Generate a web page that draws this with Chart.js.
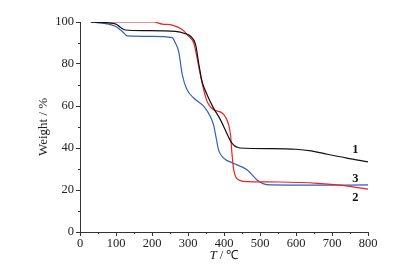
<!DOCTYPE html>
<html>
<head>
<meta charset="utf-8">
<script src="https://cdn.jsdelivr.net/npm/chart.js@4"></script>
<style>
  html, body { margin: 0; padding: 0; background: #fff; }
  #wrap { width: 408px; height: 275px; }
</style>
</head>
<body>
<div id="wrap"><canvas id="myChart" width="408" height="275"></canvas></div>
<script>
// TG curves
const temp1 = [30, 60, 98, 112, 126, 180, 265, 293, 307, 321, 330, 339, 353, 371, 390, 409, 422, 445, 530, 600, 642, 679, 741, 800];
const weight1 = [100, 99.8, 99.1, 97.5, 96.2, 95.9, 95.5, 94.4, 93.2, 89.3, 80, 71.7, 65.4, 59, 53.5, 46.5, 42.3, 40, 39.7, 39.4, 38.6, 37.3, 35.2, 33.4];

const temp2 = [30, 100, 204, 228, 256, 284, 300, 316, 325, 339, 353, 371, 395, 413, 418, 422, 427, 441, 464, 550, 660, 730, 800];
const weight2 = [100, 100, 100, 99, 98.5, 96.4, 93.5, 90, 83, 71, 62.2, 58.2, 56.7, 51, 46.3, 37.6, 29.6, 24.8, 24, 23.8, 23.2, 22.2, 20.4];

const temp3 = [30, 98, 117, 131, 200, 256, 265, 274, 284, 297, 316, 344, 362, 371, 378, 385, 399, 422, 464, 492, 510, 529, 650, 800];
const weight3 = [100, 98, 95.6, 93.4, 93.2, 92.6, 90, 86, 75, 67.8, 63.8, 59.8, 55, 51, 45, 39, 35.2, 33, 29.6, 24.8, 22.9, 22.4, 22.3, 22.4];

const xTicks = [0, 100, 200, 300, 400, 500, 600, 700, 800];
const yTicks = [0, 20, 40, 60, 80, 100];

// curve number labels: [text, T, W]
const curveLabels = [["1", 765, 39], ["3", 765, 25.5], ["2", 765, 16.5]];

const serif = "'Liberation Serif', 'Times New Roman', serif";

function pts(xs, ys) {
  return xs.map((x, i) => ({ x: x, y: ys[i] }));
}

// minor ticks, curve numbers and x title
const extras = {
  id: 'extras',
  afterDraw(chart) {
    const ctx = chart.ctx;
    const xs = chart.scales.x, ys = chart.scales.y;
    const area = chart.chartArea;
    ctx.save();
    ctx.strokeStyle = '#333';
    ctx.lineWidth = 1;
    ctx.beginPath();
    for (let v = 50; v < 800; v += 100) {
      const px = Math.round(xs.getPixelForValue(v)) + 0.5;
      ctx.moveTo(px, area.bottom);
      ctx.lineTo(px, area.bottom + 2);
    }
    for (let v = 10; v < 100; v += 20) {
      const py = Math.round(ys.getPixelForValue(v)) + 0.5;
      ctx.moveTo(area.left, py);
      ctx.lineTo(area.left - 2, py);
    }
    ctx.stroke();

    ctx.fillStyle = '#111';
    ctx.font = "bold 12.5px " + serif;
    ctx.textAlign = 'center';
    ctx.textBaseline = 'middle';
    curveLabels.forEach(l => {
      ctx.fillText(l[0], xs.getPixelForValue(l[1]), ys.getPixelForValue(l[2]));
    });

    // x title: italic T / ℃
    const cx = (area.left + area.right) / 2;
    const ty = area.bottom + 24;
    ctx.textAlign = 'left';
    const a = 'T';
    const b = ' / \u2103';
    ctx.font = "italic 12.5px " + serif;
    const wa = ctx.measureText(a).width;
    ctx.font = "12.5px " + serif;
    const wb = ctx.measureText(b).width;
    const x0 = cx - (wa + wb) / 2;
    ctx.font = "italic 12.5px " + serif;
    ctx.fillText(a, x0, ty);
    ctx.font = "12.5px " + serif;
    ctx.fillText(b, x0 + wa, ty);
    ctx.restore();
  }
};

const ctx = document.getElementById('myChart').getContext('2d');
new Chart(ctx, {
  type: 'line',
  data: {
    datasets: [
      { label: '1', data: pts(temp1, weight1), borderColor: '#111111' },
      { label: '2', data: pts(temp2, weight2), borderColor: '#f02020' },
      { label: '3', data: pts(temp3, weight3), borderColor: '#2f5fc0' }
    ]
  },
  options: {
    responsive: false,
    animation: false,
    elements: {
      line: { borderWidth: 1.2, cubicInterpolationMode: 'monotone', fill: false },
      point: { radius: 0 }
    },
    layout: { padding: { left: 0, right: 40, top: 22, bottom: 0 } },
    plugins: {
      legend: { display: false },
      tooltip: { enabled: false }
    },
    scales: {
      x: {
        type: 'linear',
        min: 0,
        max: 800,
        afterBuildTicks: s => { s.ticks = xTicks.map(v => ({ value: v })); },
        afterFit: s => { s.height = 43; },
        grid: { drawOnChartArea: false, tickLength: 4, tickColor: '#333' },
        border: { color: '#333', width: 1 },
        ticks: { color: '#222', font: { family: serif, size: 12.5 }, padding: 0, maxRotation: 0 }
      },
      y: {
        min: 0,
        max: 100,
        afterBuildTicks: s => { s.ticks = yTicks.map(v => ({ value: v })); },
        afterFit: s => { s.width = 80; },
        grid: { drawOnChartArea: false, tickLength: 4, tickColor: '#333' },
        border: { color: '#333', width: 1 },
        ticks: { color: '#222', font: { family: serif, size: 12.5 }, padding: 2 },
        title: { display: true, text: 'Weight / %', color: '#222', font: { family: serif, size: 13 }, padding: { top: 36, bottom: 0 } }
      }
    }
  },
  plugins: [extras]
});
</script>
</body>
</html>
